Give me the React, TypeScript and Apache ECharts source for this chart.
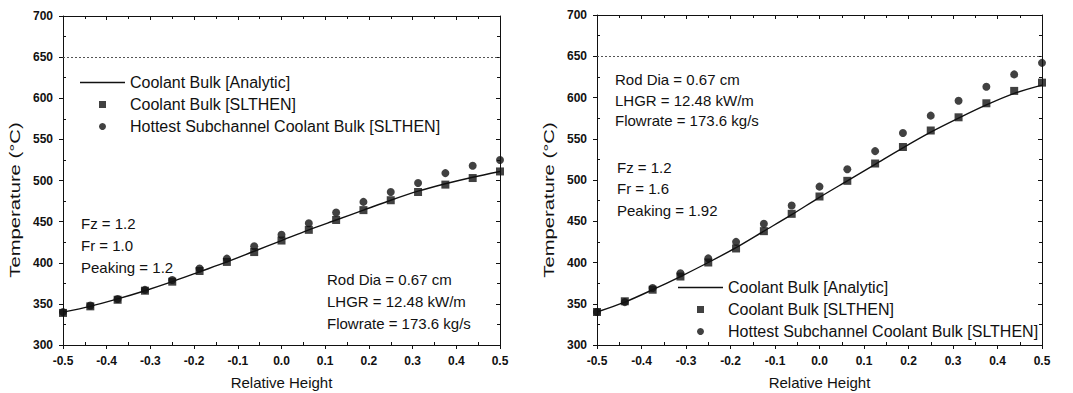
import React, { useEffect, useRef } from "react";
import * as echarts from "echarts";

const relHeight = [-0.5, -0.4375, -0.375, -0.3125, -0.25, -0.1875, -0.125, -0.0625, 0, 0.0625, 0.125, 0.1875, 0.25, 0.3125, 0.375, 0.4375, 0.5];

const leftAnalytic = [340, 347, 356, 366, 377, 389, 401, 414, 427, 440, 452, 464, 476, 487, 496, 504, 511];
const leftBulk = [339, 347, 355, 366, 377, 390, 401, 413, 427, 440, 452, 464, 476, 486, 495, 503, 511];
const leftHottest = [340, 348, 356, 367, 379, 393, 405, 420, 434, 448, 461, 474, 486, 497, 509, 518, 525];

const rightAnalytic = [340, 352, 367, 383, 400, 418, 438, 458, 479, 499, 519, 539, 558, 575, 591, 605, 615];
const rightBulk = [340, 353, 367, 383, 400, 417, 438, 459, 480, 499, 520, 540, 560, 576, 593, 608, 618];
const rightHottest = [340, 352, 369, 387, 405, 425, 447, 469, 492, 513, 535, 557, 578, 596, 613, 628, 642];

const limitTemp = 650;
const xTicks = { min: -0.5, max: 0.5, interval: 0.1 };
const yTicks = { min: 300, max: 700, interval: 50 };

const seriesNames = ["Coolant Bulk [Analytic]", "Coolant Bulk [SLTHEN]", "Hottest Subchannel Coolant Bulk [SLTHEN]"];
const xAxisTitle = "Relative Height";
const yAxisTitle = "Temperature (°C)";

const leftNotesA = ["Fz = 1.2", "Fr = 1.0", "Peaking = 1.2"];
const leftNotesB = ["Rod Dia = 0.67 cm", "LHGR = 12.48 kW/m", "Flowrate = 173.6 kg/s"];
const rightNotesA = ["Rod Dia = 0.67 cm", "LHGR = 12.48 kW/m", "Flowrate = 173.6 kg/s"];
const rightNotesB = ["Fz = 1.2", "Fr = 1.6", "Peaking = 1.92"];

const FONT = "Liberation Sans, Arial, sans-serif";
const INK = "#111";
const TEXT_SIZE = 15;

const pairs = (ys: number[]) => relHeight.map((x, i) => [x, ys[i]]);

function xFmt(v: number) {
  const s = v.toFixed(1);
  return s === "-0.0" ? "0.0" : s;
}

function buildAxes(gridIndex: number) {
  const lineStyle = { color: INK, width: 1 };
  const xs = [
    {
      type: "value", gridIndex, position: "bottom", ...xTicks,
      name: xAxisTitle, nameLocation: "middle", nameGap: 30,
      nameTextStyle: { fontFamily: FONT, fontSize: TEXT_SIZE, color: INK },
      axisLine: { show: true, onZero: false, lineStyle },
      axisTick: { show: true, inside: false, length: 4, lineStyle },
      axisLabel: { fontFamily: FONT, fontSize: 12, fontWeight: "bold", color: INK, margin: 10, formatter: xFmt },
      splitLine: { show: false },
    },
    {
      type: "value", gridIndex, position: "top", ...xTicks,
      axisLine: { show: true, onZero: false, lineStyle },
      axisTick: { show: true, inside: true, length: 4, lineStyle },
      minorTick: { show: true, splitNumber: 2, length: 3, lineStyle },
      axisLabel: { show: false },
      splitLine: { show: false },
    },
    {
      type: "value", gridIndex, position: "bottom", ...xTicks,
      axisLine: { show: false, onZero: false },
      axisTick: { show: false, inside: true },
      minorTick: { show: true, splitNumber: 2, length: 3, lineStyle },
      axisLabel: { show: false },
      splitLine: { show: false },
    },
  ];
  const ys = [
    {
      type: "value", gridIndex, position: "left", ...yTicks,
      axisLine: { show: true, onZero: false, lineStyle },
      axisTick: { show: true, inside: false, length: 4, lineStyle },
      axisLabel: { fontFamily: FONT, fontSize: 12, fontWeight: "bold", color: INK, margin: 10 },
      splitLine: { show: false },
    },
    {
      type: "value", gridIndex, position: "right", ...yTicks,
      axisLine: { show: true, onZero: false, lineStyle },
      axisTick: { show: true, inside: true, length: 4, lineStyle },
      minorTick: { show: true, splitNumber: 2, length: 3, lineStyle },
      axisLabel: { show: false },
      splitLine: { show: false },
    },
    {
      type: "value", gridIndex, position: "left", ...yTicks,
      axisLine: { show: false, onZero: false },
      axisTick: { show: false, inside: true },
      minorTick: { show: true, splitNumber: 2, length: 3, lineStyle },
      axisLabel: { show: false },
      splitLine: { show: false },
    },
  ];
  return { xs, ys };
}

function buildSeries(axisIndex: number, analytic: number[], bulk: number[], hottest: number[]) {
  return [
    {
      name: seriesNames[0], type: "line", xAxisIndex: axisIndex, yAxisIndex: axisIndex,
      data: pairs(analytic), symbol: "none", showSymbol: false, smooth: 0.3,
      lineStyle: { color: INK, width: 1.4 }, itemStyle: { color: INK },
      markLine: {
        silent: true, symbol: "none", label: { show: false },
        lineStyle: { color: "#555", type: [2, 2], width: 1 },
        data: [{ yAxis: limitTemp }],
      },
      z: 2,
    },
    {
      name: seriesNames[1], type: "scatter", xAxisIndex: axisIndex, yAxisIndex: axisIndex,
      data: pairs(bulk), symbol: "rect", symbolSize: 8, itemStyle: { color: INK }, z: 3,
    },
    {
      name: seriesNames[2], type: "scatter", xAxisIndex: axisIndex, yAxisIndex: axisIndex,
      data: pairs(hottest), symbol: "circle", symbolSize: 8, itemStyle: { color: INK }, z: 3,
    },
  ];
}

function noteTexts(lines: string[], left: number, centers: number[]) {
  return lines.map((t, i) => ({
    type: "text", x: left, y: centers[i],
    style: { text: t, font: `${TEXT_SIZE}px ${FONT}`, fill: INK, align: "left", verticalAlign: "middle" },
  }));
}

function yTitle(cx: number, cy: number) {
  return {
    type: "text", x: cx, y: cy, rotation: Math.PI / 2, scaleX: 1.35,
    style: { text: yAxisTitle, font: `${TEXT_SIZE}px ${FONT}`, fill: INK, align: "center", verticalAlign: "middle" },
  };
}

export default function App() {
  const ref = useRef<HTMLDivElement>(null);
  useEffect(() => {
    if (!ref.current) return;
    const chart = echarts.init(ref.current, undefined, { renderer: "svg" });
    const a = buildAxes(0);
    const b = buildAxes(1);
    const legendData = [
      { name: seriesNames[0], icon: "path://M0,0H100V3H0Z" },
      { name: seriesNames[1], icon: "path://M0,0H10V10H0Z" },
      { name: seriesNames[2], icon: "circle" },
    ];
    const legendBase = {
      orient: "vertical", padding: 0, itemWidth: 45, itemHeight: 7, itemGap: 5,
      symbolKeepAspect: true,
      textStyle: { fontFamily: FONT, fontSize: 16, color: INK, lineHeight: 17 },
      selectedMode: false, data: legendData,
    };
    chart.setOption({
      animation: false,
      backgroundColor: "#fff",
      grid: [
        { left: 63, top: 16, width: 437, bottom: 48, containLabel: false, outerBoundsMode: "none" },
        { left: 597, top: 15, width: 445, bottom: 48, containLabel: false, outerBoundsMode: "none" },
      ],
      xAxis: [...a.xs, ...b.xs],
      yAxis: [...a.ys, ...b.ys],
      legend: [
        { ...legendBase, left: 80, top: 74 },
        { ...legendBase, left: 678, top: 279 },
      ],
      series: [
        ...buildSeries(0, leftAnalytic, leftBulk, leftHottest),
        ...buildSeries(3, rightAnalytic, rightBulk, rightHottest),
      ],
      graphic: [
        yTitle(15, 200),
        yTitle(549, 200),
        ...noteTexts(leftNotesA, 81, [223, 245, 267]),
        ...noteTexts(leftNotesB, 327, [279, 301, 323]),
        ...noteTexts(rightNotesA, 615, [79, 100, 120]),
        ...noteTexts(rightNotesB, 617, [167, 188, 210]),
      ],
    });
    return () => chart.dispose();
  }, []);
  return <div ref={ref} style={{ position: "fixed", left: 0, top: 0, width: 1073, height: 393 }} />;
}
